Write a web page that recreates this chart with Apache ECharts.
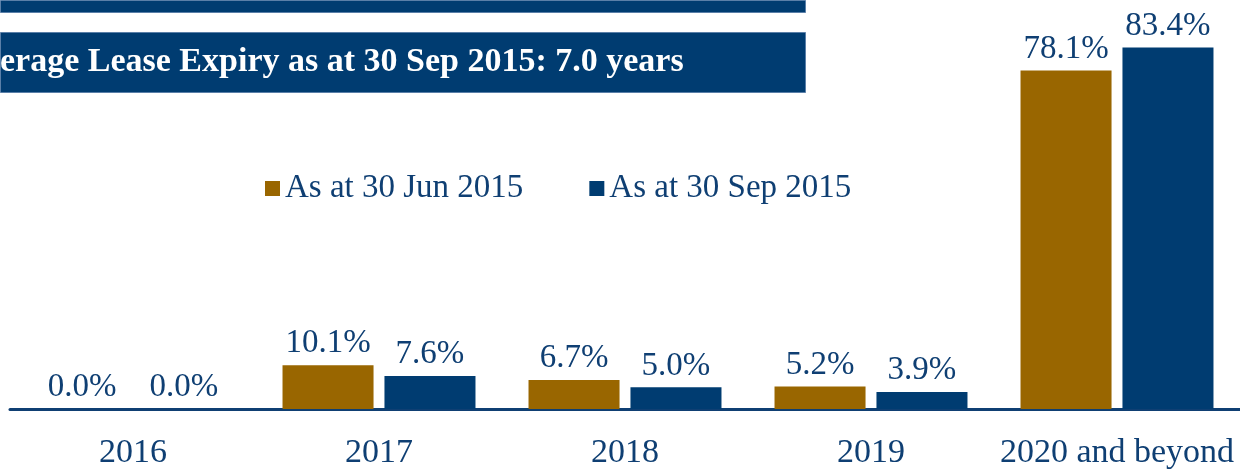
<!DOCTYPE html>
<html>
<head>
<meta charset="utf-8">
<script src="https://cdn.jsdelivr.net/npm/echarts@6/dist/echarts.min.js"></script>
<style>
  html, body { margin: 0; padding: 0; background: #fff; }
  #chart { width: 1240px; height: 470px; }
</style>
</head>
<body>
<div id="chart"></div>
<script>
var categories = ['2016', '2017', '2018', '2019', '2020 and beyond'];
var jun2015 = [0.0, 10.1, 6.7, 5.2, 78.1];
var sep2015 = [0.0, 7.6, 5.0, 3.9, 83.4];
var seriesNames = ['As at 30 Jun 2015', 'As at 30 Sep 2015'];
var bannerText = 'erage Lease Expiry as at 30 Sep 2015: 7.0 years';

var gold = '#996600';
var navy = '#003c71';
var textColor = '#0f3f73';
var font = 'Liberation Serif';

var myChart = echarts.init(document.getElementById('chart'));

function labelFmt(p) {
	return p.value.toFixed(1) + '%';
}

var option = {
	animation: false,
	textStyle: { fontFamily: font },
	grid: { left: 10, right: 0, top: 19, bottom: 57 },
	legend: {
		left: 260,
		top: 167,
		itemWidth: 15,
		itemHeight: 15,
		itemGap: 66,
		icon: 'rect',
		textStyle: { fontSize: 33, color: textColor, fontFamily: font },
		data: seriesNames
	},
	xAxis: {
		type: 'category',
		data: categories,
		axisTick: { show: false },
		axisLine: { lineStyle: { color: '#0f3f73', width: 3 } },
		axisLabel: { interval: 0, fontSize: 34, color: textColor, margin: 27, fontFamily: font }
	},
	yAxis: {
		type: 'value',
		min: 0,
		max: 90,
		show: false,
		splitLine: { show: false }
	},
	graphic: [
		{ type: 'rect', left: 0, top: 0, shape: { width: 805, height: 12 },
		  style: { fill: '#003c71', stroke: '#5a7fa8', lineWidth: 1 } },
		{ type: 'rect', left: 0, top: 32, shape: { width: 805, height: 60 },
		  style: { fill: '#003c71', stroke: '#5a7fa8', lineWidth: 1 } },
		{ type: 'text', left: 0, top: 45,
		  style: { text: bannerText, fill: '#fff', font: 'bold 34px "Liberation Serif"' } }
	],
	series: [{
		name: seriesNames[0],
		type: 'bar',
		data: jun2015,
		barWidth: '37%',
		barGap: '12%',
		itemStyle: { color: gold },
		label: { show: true, position: 'top', distance: 5, fontSize: 33, color: textColor, formatter: labelFmt }
	}, {
		name: seriesNames[1],
		type: 'bar',
		data: sep2015,
		barWidth: '37%',
		itemStyle: { color: navy },
		label: { show: true, position: 'top', distance: 5, fontSize: 33, color: textColor, formatter: labelFmt }
	}]
};

myChart.setOption(option);
window.addEventListener('resize', function () {
	myChart.resize();
});
</script>
</body>
</html>
